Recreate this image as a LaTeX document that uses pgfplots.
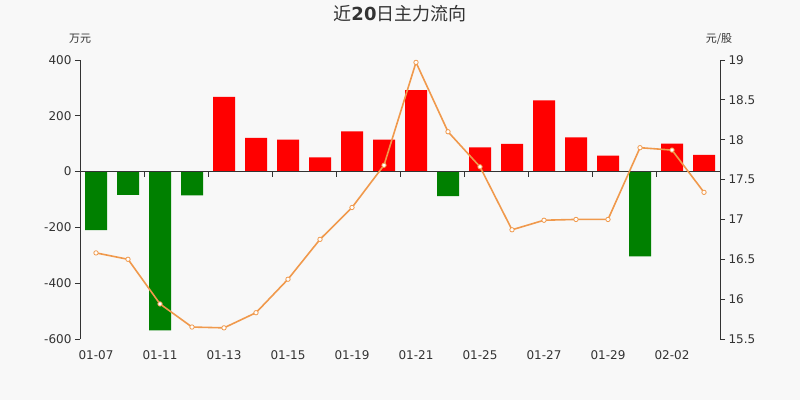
\documentclass[border=0pt]{standalone}
\usepackage{pgfplots}
\pgfplotsset{compat=1.18}
\usepackage{pgfplotstable}
\usepackage{fontspec}
\setmainfont{DejaVu Sans}
\newfontfamily\cjk{Noto Sans CJK SC}
\definecolor{bg}{HTML}{F8F8F8}
\definecolor{txt}{HTML}{333333}
\definecolor{up}{HTML}{FF0000}
\definecolor{down}{HTML}{008000}
\definecolor{price}{HTML}{F0994C}

% day index, main-force flow (10k yuan), price (yuan/share)
\pgfplotstableread{
i flow price
0 -210 16.58
1 -83 16.50
2 -569 15.94
3 -85 15.65
4 268 15.64
5 121 15.83
6 115 16.25
7 51 16.75
8 144 17.15
9 115 17.68
10 292 18.97
11 -88 18.10
12 87 17.66
13 99 16.87
14 255 16.99
15 123 17.00
16 57 17.00
17 -304 17.90
18 100 17.87
19 60 17.34
}\data

\begin{document}
\begin{tikzpicture}
\fill[bg] (0pt,0pt) rectangle (800pt,400pt);
\node[text=txt, font=\fontsize{18}{20}\selectfont] at (400pt,386pt)
  {{\cjk 近}\textbf{20}{\cjk 日主力流向}};
\node[text=txt, font=\fontsize{11}{13}\selectfont\cjk] at (80pt,361pt) {万元};
\node[text=txt, font=\fontsize{11}{13}\selectfont\cjk] at (719pt,361pt) {元/股};

\begin{axis}[
  at={(80pt,61pt)}, anchor=south west,
  scale only axis, width=640pt, height=279pt,
  xmin=-0.5, xmax=19.5, ymin=-600, ymax=400,
  axis y line*=left, axis x line*=bottom,
  x axis line style={draw=none},
  y axis line style={txt, line width=0.8pt},
  tick align=outside, major tick length=5pt,
  ytick={-600,-400,-200,0,200,400},
  xtick={0,2,...,18},
  xticklabels={01-07,01-11,01-13,01-15,01-19,01-21,01-25,01-27,01-29,02-02},
  xtick style={draw=none},
  ytick style={txt, line width=0.8pt},
  tick label style={text=txt, font=\fontsize{12}{14}\selectfont},
  /pgf/number format/assume math mode=true,
  xticklabel style={yshift=-3pt},
  ybar, bar width=22pt, bar shift=0pt,
  clip=false,
]
\addplot[fill=up, draw=none, restrict y to domain=0:1000] table[x=i, y=flow] {\data};
\addplot[fill=down, draw=none, restrict y to domain=-1000:0] table[x=i, y=flow] {\data};
\draw[txt, line width=0.8pt] (axis cs:-0.5,0) -- (axis cs:19.5,0);
\pgfplotsinvokeforeach{1.5,3.5,5.5,7.5,9.5,11.5,13.5,15.5,17.5}{
  \draw[txt, line width=0.8pt] (axis cs:#1,0) -- (axis cs:#1,-18);
}
\end{axis}

\begin{axis}[
  at={(80pt,61pt)}, anchor=south west,
  scale only axis, width=640pt, height=279pt,
  xmin=-0.5, xmax=19.5, ymin=15.5, ymax=19,
  axis y line*=right, axis x line=none,
  y axis line style={txt, line width=0.8pt},
  tick align=outside, major tick length=5pt,
  ytick={15.5,16,16.5,17,17.5,18,18.5,19},
  ytick style={txt, line width=0.8pt},
  tick label style={text=txt, font=\fontsize{12}{14}\selectfont},
  /pgf/number format/assume math mode=true,
  clip=false,
]
\addplot[price, line width=1.6pt, mark=*, mark size=2.2pt,
  mark options={fill=white, draw=price, line width=0.8pt}]
  table[x=i, y=price] {\data};
\end{axis}
\end{tikzpicture}
\end{document}
